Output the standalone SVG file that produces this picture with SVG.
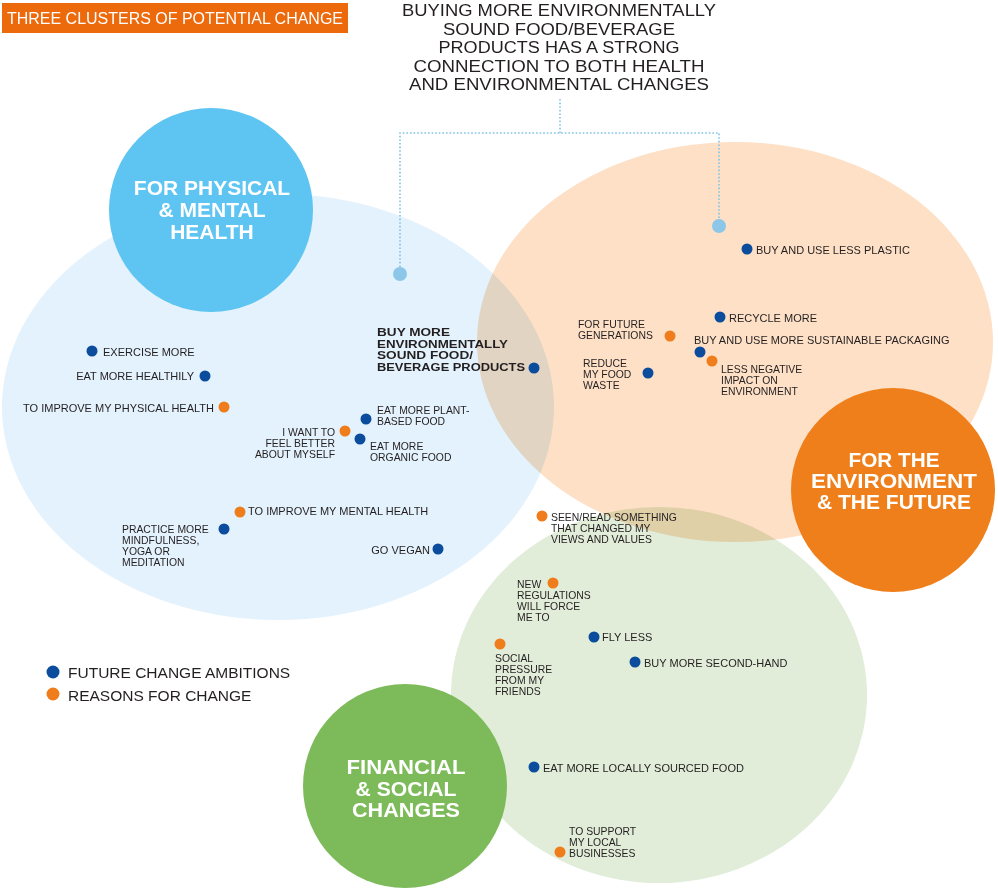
<svg xmlns="http://www.w3.org/2000/svg" width="998" height="891" viewBox="0 0 998 891">
<style>
.bg{fill:#fff}
.soft{mix-blend-mode:multiply}
.lb{fill:#e3f2fc}.lo{fill:#fde0c6}.lg{fill:#e1edd9}
.cb{fill:#5ec4f1}.co{fill:#ef7f1a}.cg{fill:#7dbb5a}
.db{fill:#0b4d9c}.do{fill:#ef7d1b}
.pin{fill:#8cc6e8}
.t{font-family:"Liberation Sans",Arial,sans-serif;font-size:11px;fill:#231f20}
.m{font-size:10.4px}
.tb{font-family:"Liberation Sans",Arial,sans-serif;font-size:11.2px;font-weight:bold;fill:#231f20}
.big{font-family:"Liberation Sans",Arial,sans-serif;font-weight:bold;fill:#fff;text-anchor:middle}
.leg{font-family:"Liberation Sans",Arial,sans-serif;font-size:15.5px;fill:#231f20}
.hd{font-family:"Liberation Sans",Arial,sans-serif;font-size:17.4px;fill:#231f20;text-anchor:middle}
.e{text-anchor:end}
.dot{fill:none;stroke:#7fc3e6;stroke-width:1.6;stroke-dasharray:1.6 2}
</style>
<rect class="bg" x="0" y="0" width="998" height="891"/>

<g id="title">
<rect x="2" y="3" width="346" height="30" fill="#ec690c"/>
<text x="175" y="24" font-family="'Liberation Sans',Arial,sans-serif" font-size="16" fill="#fff" text-anchor="middle" textLength="336" lengthAdjust="spacingAndGlyphs">THREE CLUSTERS OF POTENTIAL CHANGE</text>
</g>

<g id="note">
<text class="hd"><tspan x="559" y="16" textLength="314" lengthAdjust="spacingAndGlyphs">BUYING MORE ENVIRONMENTALLY</tspan><tspan x="559" y="34.5" textLength="232" lengthAdjust="spacingAndGlyphs">SOUND FOOD/BEVERAGE</tspan><tspan x="559" y="53" textLength="241" lengthAdjust="spacingAndGlyphs">PRODUCTS HAS A STRONG</tspan><tspan x="559" y="71.5" textLength="291" lengthAdjust="spacingAndGlyphs">CONNECTION TO BOTH HEALTH</tspan><tspan x="559" y="90" textLength="300" lengthAdjust="spacingAndGlyphs">AND ENVIRONMENTAL CHANGES</tspan></text>
</g>

<g id="cluster-health">
<ellipse class="lb soft" cx="278" cy="407" rx="276" ry="213"/>
</g>
<g id="cluster-environment">
<ellipse class="lo soft" cx="735" cy="342" rx="258" ry="200"/>
</g>
<g id="cluster-financial">
<ellipse class="lg soft" cx="659" cy="695" rx="208" ry="188"/>
</g>

<g id="health-circle">
<circle class="cb" cx="211" cy="210" r="102"/>
<text class="big" font-size="21"><tspan x="212" y="195">FOR PHYSICAL</tspan><tspan x="212" y="217">&amp; MENTAL</tspan><tspan x="212" y="239">HEALTH</tspan></text>
</g>
<g id="environment-circle">
<circle class="co" cx="893" cy="490" r="102"/>
<text class="big" font-size="20.3"><tspan x="894" y="466.5" textLength="91" lengthAdjust="spacingAndGlyphs">FOR THE</tspan><tspan x="894" y="487.5" textLength="166" lengthAdjust="spacingAndGlyphs">ENVIRONMENT</tspan><tspan x="894" y="508.5" textLength="154" lengthAdjust="spacingAndGlyphs">&amp; THE FUTURE</tspan></text>
</g>
<g id="financial-circle">
<circle class="cg" cx="405" cy="786" r="102"/>
<text class="big" font-size="20.3"><tspan x="406" y="774" textLength="119" lengthAdjust="spacingAndGlyphs">FINANCIAL</tspan><tspan x="406" y="795.5" textLength="101" lengthAdjust="spacingAndGlyphs">&amp; SOCIAL</tspan><tspan x="406" y="817" textLength="108" lengthAdjust="spacingAndGlyphs">CHANGES</tspan></text>
</g>

<g id="connectors">
<polyline class="dot" points="560,99 560,133"/>
<polyline class="dot" points="400,267 400,133 719,133 719,219"/>
<circle class="pin" cx="400" cy="274" r="7"/>
<circle class="pin" cx="719" cy="226" r="7"/>
</g>

<g id="exercise-more"><circle class="db" cx="92" cy="351" r="5.5"/><text class="t" x="103" y="356">EXERCISE MORE</text></g>
<g id="eat-healthily"><circle class="db" cx="205" cy="376" r="5.5"/><text class="t e" x="194" y="380">EAT MORE HEALTHILY</text></g>
<g id="physical-health"><circle class="do" cx="224" cy="407" r="5.5"/><text class="t e" x="214" y="412">TO IMPROVE MY PHYSICAL HEALTH</text></g>
<g id="buy-sound"><circle class="db" cx="534" cy="368" r="5.5"/><text class="tb"><tspan x="377" y="336" textLength="73" lengthAdjust="spacingAndGlyphs">BUY MORE</tspan><tspan x="377" y="347.7" textLength="131" lengthAdjust="spacingAndGlyphs">ENVIRONMENTALLY</tspan><tspan x="377" y="359.4" textLength="96" lengthAdjust="spacingAndGlyphs">SOUND FOOD/</tspan><tspan x="377" y="371" textLength="148" lengthAdjust="spacingAndGlyphs">BEVERAGE PRODUCTS</tspan></text></g>
<g id="plant-based"><circle class="db" cx="366" cy="419" r="5.5"/><text class="t m"><tspan x="377" y="414">EAT MORE PLANT-</tspan><tspan x="377" y="425">BASED FOOD</tspan></text></g>
<g id="feel-better"><circle class="do" cx="345" cy="431" r="5.5"/><text class="t m e"><tspan x="335" y="436">I WANT TO</tspan><tspan x="335" y="447">FEEL BETTER</tspan><tspan x="335" y="458">ABOUT MYSELF</tspan></text></g>
<g id="organic"><circle class="db" cx="360" cy="439" r="5.5"/><text class="t m"><tspan x="370" y="450">EAT MORE</tspan><tspan x="370" y="461">ORGANIC FOOD</tspan></text></g>
<g id="mental-health"><circle class="do" cx="240" cy="512" r="5.5"/><text class="t" x="248" y="515">TO IMPROVE MY MENTAL HEALTH</text></g>
<g id="mindfulness"><circle class="db" cx="224" cy="529" r="5.5"/><text class="t m"><tspan x="122" y="533">PRACTICE MORE</tspan><tspan x="122" y="544">MINDFULNESS,</tspan><tspan x="122" y="555">YOGA OR</tspan><tspan x="122" y="566">MEDITATION</tspan></text></g>
<g id="go-vegan"><circle class="db" cx="438" cy="549" r="5.5"/><text class="t e" x="430" y="554">GO VEGAN</text></g>

<g id="less-plastic"><circle class="db" cx="747" cy="249" r="5.5"/><text class="t" x="756" y="254">BUY AND USE LESS PLASTIC</text></g>
<g id="recycle"><circle class="db" cx="720" cy="317" r="5.5"/><text class="t" x="729" y="322">RECYCLE MORE</text></g>
<g id="future-generations"><circle class="do" cx="670" cy="336" r="5.5"/><text class="t m"><tspan x="578" y="328">FOR FUTURE</tspan><tspan x="578" y="339">GENERATIONS</tspan></text></g>
<g id="sustainable-packaging"><circle class="db" cx="700" cy="352" r="5.5"/><text class="t" x="694" y="344">BUY AND USE MORE SUSTAINABLE PACKAGING</text></g>
<g id="less-negative"><circle class="do" cx="712" cy="361" r="5.5"/><text class="t m"><tspan x="721" y="373">LESS NEGATIVE</tspan><tspan x="721" y="384">IMPACT ON</tspan><tspan x="721" y="395">ENVIRONMENT</tspan></text></g>
<g id="food-waste"><circle class="db" cx="648" cy="373" r="5.5"/><text class="t m"><tspan x="583" y="367">REDUCE</tspan><tspan x="583" y="378">MY FOOD</tspan><tspan x="583" y="389">WASTE</tspan></text></g>

<g id="seen-read"><circle class="do" cx="542" cy="516" r="5.5"/><text class="t m"><tspan x="551" y="521">SEEN/READ SOMETHING</tspan><tspan x="551" y="532">THAT CHANGED MY</tspan><tspan x="551" y="543">VIEWS AND VALUES</tspan></text></g>
<g id="regulations"><circle class="do" cx="553" cy="583" r="5.5"/><text class="t m"><tspan x="517" y="588">NEW</tspan><tspan x="517" y="599">REGULATIONS</tspan><tspan x="517" y="610">WILL FORCE</tspan><tspan x="517" y="621">ME TO</tspan></text></g>
<g id="fly-less"><circle class="db" cx="594" cy="637" r="5.5"/><text class="t" x="602" y="641">FLY LESS</text></g>
<g id="social-pressure"><circle class="do" cx="500" cy="644" r="5.5"/><text class="t m"><tspan x="495" y="662">SOCIAL</tspan><tspan x="495" y="673">PRESSURE</tspan><tspan x="495" y="684">FROM MY</tspan><tspan x="495" y="695">FRIENDS</tspan></text></g>
<g id="second-hand"><circle class="db" cx="635" cy="662" r="5.5"/><text class="t" x="644" y="667">BUY MORE SECOND-HAND</text></g>
<g id="local-food"><circle class="db" cx="534" cy="767" r="5.5"/><text class="t" x="543" y="772">EAT MORE LOCALLY SOURCED FOOD</text></g>
<g id="local-business"><circle class="do" cx="560" cy="852" r="5.5"/><text class="t m"><tspan x="569" y="835">TO SUPPORT</tspan><tspan x="569" y="846">MY LOCAL</tspan><tspan x="569" y="857">BUSINESSES</tspan></text></g>

<g id="legend">
<circle class="db" cx="53" cy="672" r="6.5"/><text class="leg" x="68" y="678">FUTURE CHANGE AMBITIONS</text>
<circle class="do" cx="53" cy="694" r="6.5"/><text class="leg" x="68" y="701">REASONS FOR CHANGE</text>
</g>
</svg>
